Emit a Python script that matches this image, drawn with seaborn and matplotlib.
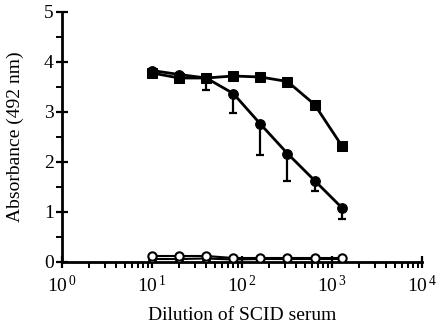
import numpy as np
import pandas as pd
import matplotlib
matplotlib.use("Agg")
import matplotlib.pyplot as plt
import seaborn as sns
from matplotlib.ticker import LogLocator, FixedLocator, NullFormatter

sns.set_theme(style="ticks")
plt.rcParams['font.family'] = ['Liberation Serif', 'DejaVu Serif']
plt.rcParams['mathtext.fontset'] = 'custom'
plt.rcParams['mathtext.rm'] = 'Liberation Serif'
plt.rcParams['mathtext.it'] = 'Liberation Serif'

dilution = [10, 20, 40, 80, 160, 320, 640, 1280]
squares = [3.78, 3.68, 3.68, 3.72, 3.70, 3.61, 3.15, 2.33]
circles = [3.83, 3.75, 3.68, 3.37, 2.76, 2.17, 1.63, 1.09]
circles_err_low = [0.0, 0.0, 0.23, 0.38, 0.61, 0.55, 0.20, 0.23]
open_a = [0.12, 0.12, 0.12, 0.08, 0.08, 0.08, 0.08, 0.08]
open_b = [0.06, 0.06, 0.07, 0.05, 0.06, 0.06, 0.06, 0.06]

df = pd.DataFrame({"dilution": dilution * 4,
                   "abs": squares + circles + open_a + open_b,
                   "series": ["sq"] * 8 + ["ci"] * 8 + ["oa"] * 8 + ["ob"] * 8})

fig = plt.figure(figsize=(4.38, 3.23), dpi=100)
ax = fig.add_axes([62/438, 61/323, 360/438, 250/323])

# error bars (lower only)
ax.errorbar(dilution, circles, yerr=[circles_err_low, [0]*8], fmt='none',
            ecolor='black', elinewidth=1.6, capsize=3, capthick=1.6, zorder=2)

sns.lineplot(data=df[df.series == "ob"], x="dilution", y="abs", ax=ax,
             color='black', linewidth=1.5, marker='o', markersize=5,
             markerfacecolor='white', markeredgecolor='black', markeredgewidth=1.5, zorder=3)
sns.lineplot(data=df[df.series == "oa"], x="dilution", y="abs", ax=ax,
             color='black', linewidth=1.5, marker='o', markersize=6,
             markerfacecolor='white', markeredgecolor='black', markeredgewidth=1.5, zorder=4)
sns.lineplot(data=df[df.series == "sq"], x="dilution", y="abs", ax=ax,
             color='black', linewidth=2, marker='s', markersize=6.5,
             markeredgecolor='black', zorder=5)
sns.lineplot(data=df[df.series == "ci"], x="dilution", y="abs", ax=ax,
             color='black', linewidth=2, marker='o', markersize=7,
             markeredgecolor='black', zorder=6)

ax.set_xscale('log')
ax.set_xlim(1, 1e4)
ax.set_ylim(0, 5)
ax.set_yticks([0, 1, 2, 3, 4, 5])
ax.yaxis.set_minor_locator(FixedLocator([0.5, 1.5, 2.5, 3.5, 4.5]))
ax.xaxis.set_minor_locator(LogLocator(base=10, subs=np.arange(2, 10), numticks=10))
ax.xaxis.set_minor_formatter(NullFormatter())
ax.set_xticks([1, 10, 100, 1000, 10000])
ax.set_xticklabels([r'$10^{\,0}$', r'$10^{\,1}$', r'$10^{\,2}$', r'$10^{\,3}$', r'$10^{\,4}$'])

for s in ['top', 'right']:
    ax.spines[s].set_visible(False)
for s in ['left', 'bottom']:
    ax.spines[s].set_linewidth(2)
    ax.spines[s].set_color('black')

ax.tick_params(axis='both', which='major', direction='inout', length=8, width=1.6,
               labelsize=14, colors='black', pad=2)
ax.tick_params(axis='both', which='minor', direction='out', length=4, width=1.4, colors='black')
ax.tick_params(axis='x', which='major', pad=5)

ax.set_xlabel("Dilution of SCID serum", fontsize=14, color='black', labelpad=8)
ax.set_ylabel("Absorbance (492 nm)", fontsize=14, color='black', labelpad=14)
if ax.get_legend():
    ax.get_legend().remove()

fig.savefig("out.png", dpi=100)
